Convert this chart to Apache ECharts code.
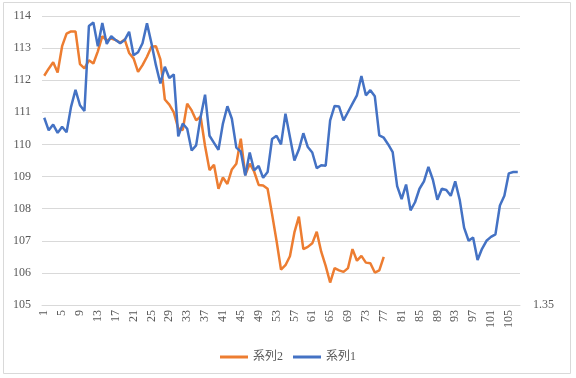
<!DOCTYPE html>
<html>
<head>
<meta charset="utf-8">
<script src="https://cdn.jsdelivr.net/npm/echarts@6/dist/echarts.min.js"></script>
<style>
    html, body { margin: 0; padding: 0; background: #fff; }
    #chart { width: 576px; height: 378px; }
</style>
</head>
<body>
<div id="chart"></div>
<script>
    // x categories 1..107
    var categories = [];
    for (var i = 1; i <= 107; i++) categories.push(String(i));

    // 系列1 (blue)
    var series1 = [
        110.83, 110.44, 110.62, 110.36, 110.55, 110.38, 111.17, 111.70, 111.22, 111.04,
        113.69, 113.80, 113.06, 113.78, 113.13, 113.37, 113.25, 113.15, 113.25, 113.51,
        112.78, 112.87, 113.15, 113.77, 113.15, 112.47, 111.90, 112.42, 112.07, 112.18,
        110.25, 110.65, 110.49, 109.81, 109.97, 110.85, 111.55, 110.27, 110.05, 109.83,
        110.65, 111.19, 110.80, 109.90, 109.78, 109.03, 109.75, 109.19, 109.33, 108.96,
        109.14, 110.17, 110.27, 110.00, 110.96, 110.23, 109.50, 109.84, 110.35, 109.92,
        109.75, 109.26, 109.35, 109.34, 110.75, 111.20, 111.18, 110.75, 111.01, 111.27,
        111.53, 112.13, 111.53, 111.69, 111.50, 110.28, 110.21, 110.00, 109.76, 108.70,
        108.30, 108.75, 107.95, 108.20, 108.62, 108.85, 109.30, 108.90, 108.28, 108.62,
        108.58, 108.40, 108.85, 108.28, 107.40, 107.00, 107.10, 106.40, 106.75, 107.00,
        107.12, 107.20, 108.10, 108.40, 109.10, 109.14, 109.14
    ];

    // 系列2 (orange)
    var series2 = [
        112.14, 112.36, 112.56, 112.24, 113.06, 113.45, 113.52, 113.52, 112.50, 112.37,
        112.62, 112.52, 112.90, 113.37, 113.23, 113.30, 113.25, 113.17, 113.27, 112.85,
        112.68, 112.26, 112.47, 112.73, 113.04, 113.06, 112.65, 111.40, 111.24, 111.00,
        110.50, 110.45, 111.27, 111.06, 110.75, 110.87, 109.95, 109.20, 109.37, 108.62,
        108.97, 108.77, 109.22, 109.40, 110.18, 109.05, 109.40, 109.15, 108.74, 108.72,
        108.62, 107.83, 107.00, 106.10, 106.24, 106.52, 107.26, 107.75, 106.74, 106.81,
        106.92, 107.28, 106.66, 106.22, 105.70, 106.15, 106.08, 106.03, 106.15, 106.74,
        106.38, 106.53, 106.32, 106.30, 106.01, 106.08, 106.50
    ];

    var yMin = 105, yMax = 114, yStep = 1;
    var rightLabel = 1.35;

    var labelFont = "'Liberation Serif', 'Noto Sans CJK JP', serif";
    var gray = '#595959';

    var chart = echarts.init(document.getElementById('chart'));
    chart.setOption({
        animation: false,
        color: ['#ED7D31', '#4472C4'],
        graphic: [{
            type: 'rect',
            shape: { x: 3.5, y: 2.5, width: 567, height: 371 },
            style: { fill: 'none', stroke: '#d9d9d9', lineWidth: 1 },
            silent: true
        }],
        grid: {
            left: 42,
            right: 56,
            top: 16,
            bottom: 73
        },
        legend: {
            data: ['系列2', '系列1'],
            left: 'center',
            top: 346,
            icon: 'rect',
            itemWidth: 28,
            itemHeight: 3,
            itemGap: 10,
            textStyle: { color: gray, fontSize: 12, fontFamily: labelFont }
        },
        xAxis: {
            type: 'category',
            data: categories,
            boundaryGap: true,
            axisLine: { show: true, lineStyle: { color: '#d9d9d9', width: 1 } },
            axisTick: { show: false },
            axisLabel: {
                interval: 3,
                rotate: 90,
                margin: 5,
                color: gray,
                fontSize: 12,
                fontFamily: labelFont
            }
        },
        yAxis: [{
            type: 'value',
            min: yMin,
            max: yMax,
            interval: yStep,
            axisLine: { show: false },
            axisTick: { show: false },
            splitLine: { lineStyle: { color: '#d9d9d9', width: 1 } },
            axisLabel: {
                margin: 11,
                color: gray,
                fontSize: 12,
                fontFamily: labelFont
            }
        }, {
            type: 'value',
            position: 'right',
            min: rightLabel,
            max: 1.40,
            interval: 0.05,
            axisLine: { show: false },
            axisTick: { show: false },
            splitLine: { show: false },
            axisLabel: {
                showMaxLabel: false,
                margin: 13,
                color: gray,
                fontSize: 12,
                fontFamily: labelFont,
                formatter: function (v) { return v.toFixed(2); }
            }
        }],
        series: [
            {
                name: '系列2',
                type: 'line',
                data: series2,
                showSymbol: false,
                symbol: 'none',
                lineStyle: { width: 2.5, color: '#ED7D31' },
                itemStyle: { color: '#ED7D31' }
            },
            {
                name: '系列1',
                type: 'line',
                data: series1,
                showSymbol: false,
                symbol: 'none',
                lineStyle: { width: 2.5, color: '#4472C4' },
                itemStyle: { color: '#4472C4' }
            }
        ]
    });
</script>
</body>
</html>
